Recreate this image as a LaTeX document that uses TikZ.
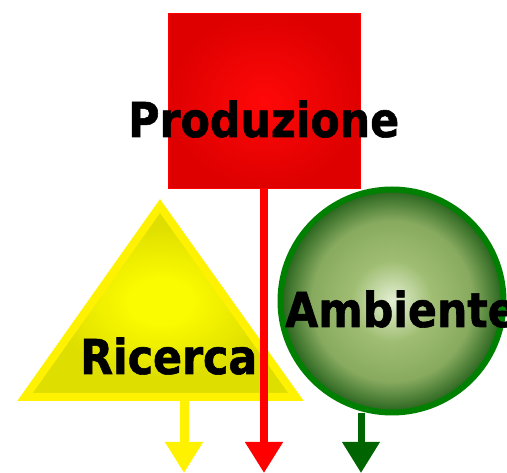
\documentclass[tikz,border=0pt]{standalone}
\usepackage{fontspec}
\newfontfamily\labfont[FakeStretch=0.89,FakeBold=1.2]{DejaVu Sans}
\usetikzlibrary{arrows.meta}
\definecolor{rC}{RGB}{255,8,8}
\definecolor{rE}{RGB}{222,0,0}
\definecolor{yC}{RGB}{250,250,0}
\definecolor{yE}{RGB}{222,222,0}
\definecolor{gC}{RGB}{228,240,212}
\definecolor{gM}{RGB}{160,190,115}
\definecolor{gM2}{RGB}{135,170,95}
\definecolor{gE}{RGB}{38,98,28}
\definecolor{gBorder}{RGB}{0,128,0}
\definecolor{gArrow}{RGB}{0,100,0}
\pgfdeclareradialshading{redshade}{\pgfpoint{0bp}{0bp}}{color(0bp)=(rC); color(25bp)=(rE); color(50bp)=(rE)}
\pgfdeclareradialshading{yelshade}{\pgfpoint{0bp}{0bp}}{color(0bp)=(yC); color(6bp)=(yC); color(20bp)=(yE); color(50bp)=(yE)}
\pgfdeclareradialshading{ambshade}{\pgfpoint{0bp}{0bp}}{color(0bp)=(gC); color(9bp)=(gM); color(18bp)=(gM2); color(25bp)=(gE); color(50bp)=(gE)}
\tikzset{
  lab/.style={inner sep=0pt, anchor=base west, font=\labfont\bfseries\fontsize{48}{50}\selectfont, text=black},
  bigarrow/.style={line width=#1, -{Triangle[width=36pt,length=31pt]}},
}
\begin{document}
\begin{tikzpicture}[x=1pt,y=-1pt]
\useasboundingbox (0,0) rectangle (507,473);
\clip (0,0) rectangle (507,473);
% triangle
\coordinate (tA) at (160,206);
\coordinate (tL) at (25,397);
\coordinate (tR) at (296,397);
\shade[shading=yelshade] (tA) -- (tL) -- (tR) -- cycle;
\draw[yellow, line width=8pt, line join=miter] (tA) -- (tL) -- (tR) -- cycle;
\coordinate (ystart) at (184,401);
\coordinate (yend) at (184,473);
\draw[yellow, bigarrow=9pt] (ystart) -- (yend);
% square
\node[rectangle, shade, shading=redshade, draw=red, line width=1pt, minimum width=192pt, minimum height=175pt, inner sep=0pt] (prod) at (264.5,101) {};
\coordinate (rend) at (264,473);
\draw[red, bigarrow=8pt] (prod.south -| rend) -- (rend);
% circle
\node[circle, shade, shading=ambshade, draw=gBorder, line width=6pt, minimum size=223pt, inner sep=0pt] (amb) at (392,301) {};
\coordinate (gstart) at (361,413);
\coordinate (gend) at (361,473);
\draw[gArrow, bigarrow=7pt] (gstart) -- (gend);
% labels
\node[lab] (tprod) at (128,137) {Produzione};
\node[lab] (tric) at (80,374) {Ricerca};
\node[lab] (tamb) at (285,327) {Ambiente};
\end{tikzpicture}
\end{document}
